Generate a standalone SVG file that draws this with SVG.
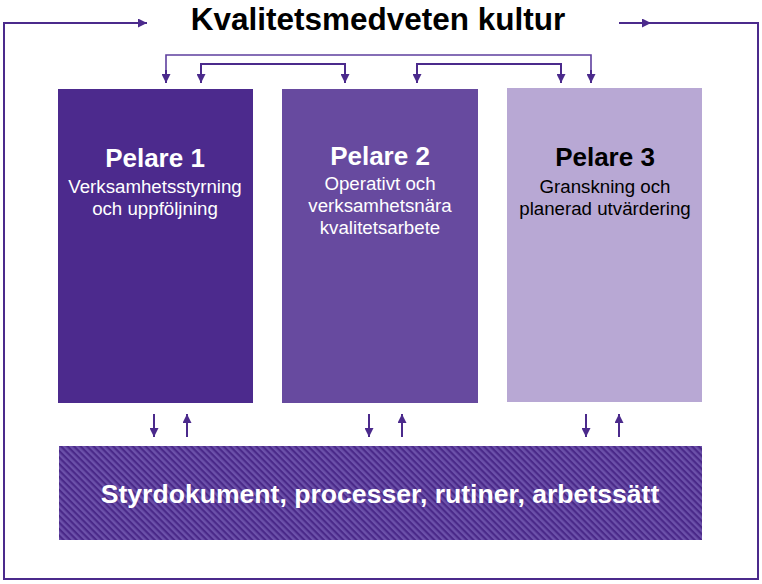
<svg xmlns="http://www.w3.org/2000/svg" width="762" height="584" viewBox="0 0 762 584">
<style>
.conn{fill:none;stroke:#4b2a8c;stroke-width:2}
.thin{fill:none;stroke:#5e3f9e;stroke-width:1.6}
.t{font-family:"Liberation Sans",Arial,sans-serif;text-anchor:middle}
.h{font-weight:bold;font-size:26px}
.s{font-size:18.7px}
.w{fill:#ffffff}
.k{fill:#000000}
</style>
<defs>
<marker id="ah" viewBox="0 0 9 9" refX="9" refY="4.5" markerWidth="9" markerHeight="9" markerUnits="userSpaceOnUse" orient="auto">
<path d="M0,0 L9,4.5 L0,9 z" fill="#4b2a8c"/>
</marker>
<pattern id="hatch" width="4.6" height="4.6" patternUnits="userSpaceOnUse" patternTransform="rotate(45)">
<rect width="4.6" height="4.6" fill="#6c51aa"/>
<rect width="4.6" height="2.2" fill="#4a2989"/>
</pattern>
</defs>
<rect width="762" height="584" fill="#ffffff"/>
<text class="t" x="378" y="30" font-size="31.5" font-weight="bold" fill="#000000">Kvalitetsmedveten kultur</text>
<g id="p1">
<rect x="58" y="89" width="195" height="314" fill="#4c2a8d"/>
<text class="t h w" x="155" y="167">Pelare 1</text>
<text class="t s w" x="155" y="193">Verksamhetsstyrning</text>
<text class="t s w" x="155" y="215">och uppföljning</text>
</g>
<g id="p2">
<rect x="282" y="89" width="196" height="314" fill="#674a9f"/>
<text class="t h w" x="380" y="165">Pelare 2</text>
<text class="t s w" x="380" y="190">Operativt och</text>
<text class="t s w" x="380" y="212">verksamhetsnära</text>
<text class="t s w" x="380" y="234">kvalitetsarbete</text>
</g>
<g id="p3">
<rect x="507" y="88" width="195" height="314" fill="#b8a8d4"/>
<text class="t h k" x="605" y="166">Pelare 3</text>
<text class="t s k" x="605" y="193">Granskning och</text>
<text class="t s k" x="605" y="215">planerad utvärdering</text>
</g>
<g id="base">
<rect x="59" y="446" width="643" height="94" fill="url(#hatch)"/>
<text class="t w" x="380" y="503" font-size="26.6" font-weight="bold">Styrdokument, processer, rutiner, arbetssätt</text>
</g>
<g id="connectors">
<polyline class="conn" points="619,23 758,23 758,579 4,579 4,23 147,23" marker-end="url(#ah)"/>
<line class="conn" x1="619" y1="23" x2="651" y2="23" marker-end="url(#ah)"/>
<polyline class="thin" points="166,83 166,55 591,55 591,83"/>
<line class="conn" x1="166" y1="70" x2="166" y2="83" marker-end="url(#ah)"/>
<line class="conn" x1="591" y1="70" x2="591" y2="83" marker-end="url(#ah)"/>
<polyline class="conn" points="201,83 201,64 345,64 345,83"/>
<line class="conn" x1="201" y1="70" x2="201" y2="83" marker-end="url(#ah)"/>
<line class="conn" x1="345" y1="70" x2="345" y2="83" marker-end="url(#ah)"/>
<polyline class="conn" points="417,83 417,64 561,64 561,83"/>
<line class="conn" x1="417" y1="70" x2="417" y2="83" marker-end="url(#ah)"/>
<line class="conn" x1="561" y1="70" x2="561" y2="83" marker-end="url(#ah)"/>
<line class="conn" x1="154" y1="414" x2="154" y2="437" marker-end="url(#ah)"/>
<line class="conn" x1="187" y1="437" x2="187" y2="414" marker-end="url(#ah)"/>
<line class="conn" x1="369" y1="414" x2="369" y2="437" marker-end="url(#ah)"/>
<line class="conn" x1="402" y1="437" x2="402" y2="414" marker-end="url(#ah)"/>
<line class="conn" x1="586" y1="414" x2="586" y2="437" marker-end="url(#ah)"/>
<line class="conn" x1="619" y1="437" x2="619" y2="414" marker-end="url(#ah)"/>
</g>
</svg>
